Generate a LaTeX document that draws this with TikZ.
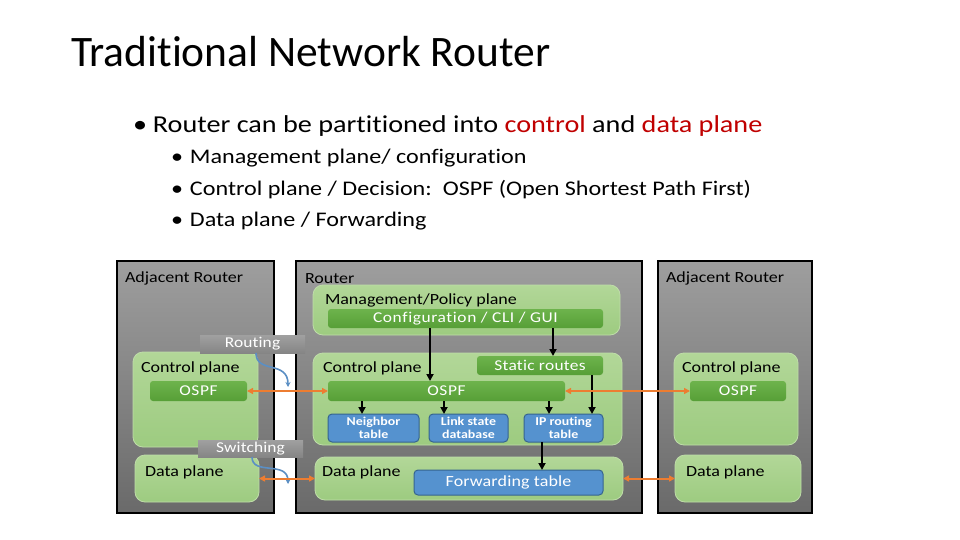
\documentclass[tikz,border=0pt]{standalone}
\usepackage{fontspec}
\setmainfont{Carlito}[FakeStretch=1.16, Ligatures=CommonOff]
\newfontfamily\titlefont{Carlito}[Ligatures=CommonOff]
\usetikzlibrary{arrows.meta}
\definecolor{grayT}{HTML}{9E9E9E}
\definecolor{grayB}{HTML}{6A6A6A}
\definecolor{greenT}{HTML}{B2D798}
\definecolor{greenB}{HTML}{9DCB80}
\definecolor{greenE}{HTML}{BFDDA9}
\definecolor{barT}{HTML}{6DB34C}
\definecolor{barB}{HTML}{579F37}
\definecolor{blueF}{HTML}{5592CF}
\definecolor{blueE}{HTML}{36648F}
\definecolor{lblT}{HTML}{A0A0A0}
\definecolor{lblB}{HTML}{858585}
\definecolor{orangeA}{HTML}{ED7D31}
\definecolor{blueA}{HTML}{5B8FC4}
\definecolor{redT}{HTML}{C00000}
\begin{document}
\begin{tikzpicture}[x=1pt,y=-1pt,
  every node/.style={inner sep=0pt, outer sep=0pt},
  routerbox/.style={anchor=north west, draw=black, line width=2.6pt, top color=grayT, bottom color=grayB},
  greenbox/.style={anchor=north west, draw=greenE, line width=0.8pt, rounded corners=10pt, top color=greenT, bottom color=greenB},
  barbox/.style={anchor=north west, rounded corners=3pt, top color=barT, bottom color=barB, text=white, font=\fontsize{15}{18}\selectfont},
  bluebox/.style={anchor=north west, draw=blueE, line width=1pt, rounded corners=4pt, fill=blueF, text=white, align=center, font=\fontsize{12}{13.5}\selectfont\bfseries},
  lblbox/.style={anchor=north west, top color=lblT, bottom color=lblB, text=white, font=\fontsize{15}{18}\selectfont},
  dtext/.style={anchor=base west, font=\fontsize{15.5}{18}\selectfont},
  subb/.style={anchor=base west, font=\fontsize{20.8}{24}\selectfont},
  blk/.style={-{Triangle[length=7pt,width=7pt]}, line width=2.4pt, black},
  org/.style={{Triangle[length=6pt,width=6pt]}-{Triangle[length=6pt,width=6pt]}, line width=2pt, orangeA},
  blu/.style={-{Stealth[length=5pt,width=5pt]}, line width=1.6pt, blueA},
]
\useasboundingbox[fill=white] (0,0) rectangle (960,540);

% ---- slide text
\node[anchor=base west, font=\titlefont\fontsize{43.5}{48}\selectfont] (title) at (71,67) {Traditional Network Router};
\node[anchor=base west, font=\fontsize{24.3}{28}\selectfont] (b1) at (137,133) {\makebox[16pt][l]{\hspace{-4pt}•}Router can be partitioned into \textcolor{redT}{control} and \textcolor{redT}{data plane}};
\node[subb] (s1) at (175,164) {\makebox[15pt][l]{\hspace{-4pt}•}Management plane/ configuration};
\node[subb] (s2) at (175,195) {\makebox[15pt][l]{\hspace{-4pt}•}Control plane / Decision:\ \ OSPF (Open Shortest Path First)};
\node[subb] (s3) at (175,226) {\makebox[15pt][l]{\hspace{-4pt}•}Data plane / Forwarding};

% ---- router boxes
\node[routerbox, minimum width=157pt, minimum height=252pt] (lr) at (117,261) {};
\node[routerbox, minimum width=346pt, minimum height=252pt] (mr) at (296,261) {};
\node[routerbox, minimum width=154pt, minimum height=252pt] (rr) at (658,261) {};

% ---- green planes
\node[greenbox, minimum width=125pt, minimum height=95pt] (lcp) at (133,352) {};
\node[greenbox, minimum width=124pt, minimum height=47pt] (ldp) at (135,455) {};
\node[greenbox, minimum width=307pt, minimum height=50pt] (mmp) at (313,285) {};
\node[greenbox, minimum width=309pt, minimum height=92pt] (mcp) at (313,353) {};
\node[greenbox, minimum width=308pt, minimum height=43pt] (mdp) at (315,457) {};
\node[greenbox, minimum width=124pt, minimum height=92pt] (rcp) at (674,353) {};
\node[greenbox, minimum width=126pt, minimum height=47pt] (rdp) at (675,455) {};

% ---- labels in boxes
\node[dtext] (lrt) at (125,282) {Adjacent Router};
\node[dtext] (mrt) at (305,283) {Router};
\node[dtext] (rrt) at (666,282) {Adjacent Router};
\node[dtext] (mmpt) at (325,304) {Management/Policy plane};
\node[dtext] (lcpt) at (141,372) {Control plane};
\node[dtext] (mcpt) at (323,372) {Control plane};
\node[dtext] (rcpt) at (682,372) {Control plane};
\node[dtext] (ldpt) at (145,476) {Data plane};
\node[dtext] (mdpt) at (322,476) {Data plane};
\node[dtext] (rdpt) at (686,476) {Data plane};

% ---- green bars
\node[barbox, minimum width=275pt, minimum height=19pt] (cfg) at (328,309) {\addfontfeature{LetterSpace=4}Configuration / CLI / GUI};
\node[barbox, minimum width=126pt, minimum height=19pt] (stat) at (477,356) {\addfontfeature{LetterSpace=2}Static routes};
\node[barbox, minimum width=237pt, minimum height=20pt] (mospf) at (328,381) {\addfontfeature{LetterSpace=4}OSPF};
\node[barbox, minimum width=97pt, minimum height=20pt] (lospf) at (150,381) {\addfontfeature{LetterSpace=4}OSPF};
\node[barbox, minimum width=96pt, minimum height=20pt] (rospf) at (690,381) {\addfontfeature{LetterSpace=4}OSPF};

% ---- blue tables
\node[bluebox, minimum width=91pt, minimum height=28pt] (nbr) at (328,414) {Neighbor\\table};
\node[bluebox, minimum width=79pt, minimum height=28pt] (lsd) at (429,414) {Link state\\database};
\node[bluebox, minimum width=79pt, minimum height=28pt] (ipr) at (524,414) {IP routing\\table};
\node[bluebox, minimum width=189pt, minimum height=25pt, font=\fontsize{15.5}{18}\selectfont] (fwd) at (414,470) {\addfontfeature{LetterSpace=1}Forwarding table};

% ---- black arrows
\draw[blk] ([xshift=102pt]cfg.south west) -- ([xshift=102pt]mospf.north west);
\draw[blk] ([xshift=225pt]cfg.south west) -- ([xshift=76pt]stat.north west);
\draw[blk] ([xshift=34pt]mospf.south west) -- ([xshift=34pt]nbr.north west);
\draw[blk] ([xshift=116pt]mospf.south west) -- ([xshift=15pt]lsd.north west);
\draw[blk] ([xshift=221pt]mospf.south west) -- ([xshift=25pt]ipr.north west);
\draw[blk] ([xshift=115pt]stat.south west) -- ([xshift=68pt]ipr.north west);
\draw[blk] ([xshift=18pt]ipr.south west) -- ([xshift=128pt]fwd.north west);

% ---- routing / switching labels
\node[lblbox, minimum width=105pt, minimum height=18pt] (rout) at (200,335) {\addfontfeature{LetterSpace=1}Routing};
\node[lblbox, minimum width=105pt, minimum height=17pt] (swit) at (198,440) {\addfontfeature{LetterSpace=1}Switching};
\coordinate (rend) at (288,387);
\coordinate (send) at (288,484);
\draw[blu] ([xshift=56pt]rout.south west) .. controls (256,374) and (288,360) .. (rend);
\draw[blu] ([xshift=54pt]swit.south west) .. controls (252,476) and (288,460) .. (send);

% ---- orange arrows
\draw[org] (lospf.east) -- (mospf.west);
\draw[org] (mospf.east) -- (rospf.west);
\draw[org] (ldp.east) -- (mdp.west);
\draw[org] (mdp.east) -- (rdp.west);
\end{tikzpicture}
\end{document}
